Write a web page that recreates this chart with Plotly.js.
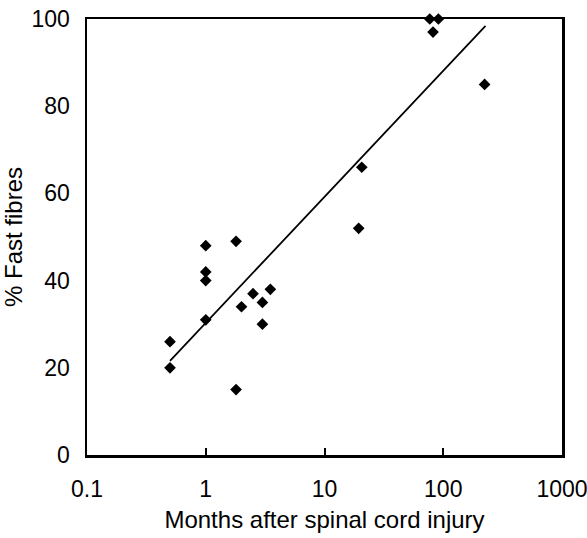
<!DOCTYPE html>
<html>
<head>
<meta charset="utf-8">
<script src="https://cdn.plot.ly/plotly-3.0.1.min.js"></script>
<style>html,body{margin:0;padding:0;background:#fff;}#chart{width:587px;height:538px;}</style>
</head>
<body>
<div id="chart"></div>
<script>
// Months after injury and % fast fibres for each subject
var months = [0.5, 0.5, 1, 1, 1, 1, 1.8, 1.8, 2, 2.5, 3, 3, 3.5, 19.4, 20.6, 77, 82, 91, 223];
var fastFibres = [26, 20, 48, 42, 40, 31, 49, 15, 34, 37, 35, 30, 38, 52, 66, 100, 97, 100, 85];
// Regression line end points
var fitMonths = [0.5, 227];
var fitFast = [21.6, 98.4];
var xTickVals = [0.1, 1, 10, 100, 1000];
var xTickText = ['0.1', '1', '10', '100', '1000'];
var yTickVals = [0, 20, 40, 60, 80, 100];

var font = 'Liberation Sans, Arial, sans-serif';
var data = [
  {x: fitMonths, y: fitFast, mode: 'lines', type: 'scatter',
   line: {color: '#000', width: 1.8}, hoverinfo: 'skip', cliponaxis: false},
  {x: months, y: fastFibres, mode: 'markers', type: 'scatter',
   marker: {symbol: 'diamond', size: 9, color: '#000'}, cliponaxis: false}
];
var layout = {
  width: 587, height: 538,
  margin: {l: 87, r: 25, t: 19, b: 83},
  paper_bgcolor: '#fff', plot_bgcolor: '#fff',
  showlegend: false,
  font: {family: font, color: '#000', size: 23},
  xaxis: {
    type: 'log', range: [-1, 3],
    tickvals: xTickVals, ticktext: xTickText,
    ticks: 'inside', ticklen: 7, tickwidth: 2, tickcolor: '#000',
    ticklabelstandoff: 12, ticklabeloverflow: 'allow',
    showgrid: false, zeroline: false,
    showline: true, mirror: true, linecolor: '#000', linewidth: 2.5,
    tickfont: {size: 23, family: font},
    title: {text: 'Months after spinal cord injury', font: {size: 24, family: font}, standoff: 10}
  },
  yaxis: {
    range: [0, 100],
    tickvals: yTickVals,
    ticks: '', showgrid: false, zeroline: false,
    ticklabelstandoff: 10,
    showline: true, mirror: true, linecolor: '#000', linewidth: 2.5,
    tickfont: {size: 23, family: font},
    title: {text: '% Fast fibres', font: {size: 24, family: font}, standoff: 6}
  }
};
Plotly.newPlot('chart', data, layout, {displayModeBar: false, staticPlot: true});
</script>
</body>
</html>
